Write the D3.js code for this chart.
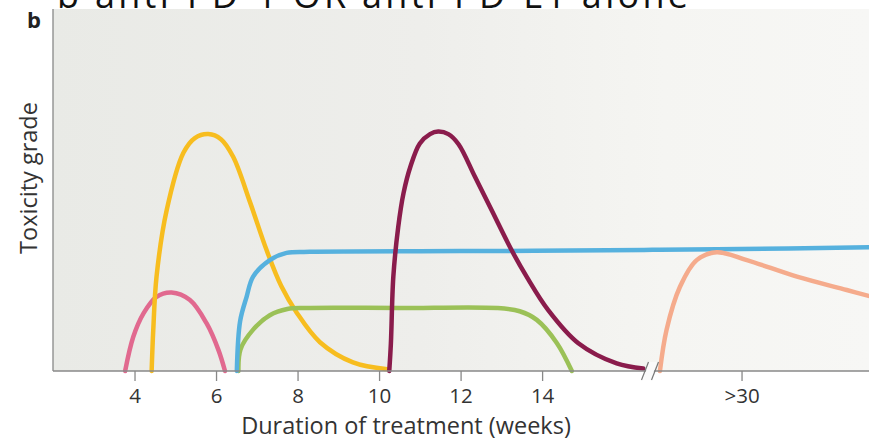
<!DOCTYPE html>
<html>
<head>
<meta charset="utf-8">
<script src="https://cdn.jsdelivr.net/npm/d3@7"></script>
<style>
  html, body { margin: 0; padding: 0; background: #fff; }
  svg { display: block; }
  text { font-family: 'Open Sans', Lato, sans-serif; fill: #333; }
</style>
</head>
<body>
<div id="chart"></div>
<script>
// weeks of treatment vs toxicity grade (arbitrary units)
const pink = [[3.77, 0], [3.97, 0.95], [4.22, 1.6], [4.54, 2.06], [4.91, 2.18], [5.36, 1.97], [5.77, 1.32], [6.06, 0.58], [6.22, 0]]
const yellow = [[4.42, 0], [4.46, 1.14], [4.54, 2.62], [4.79, 4.47], [5.2, 6.06], [5.48, 6.47], [5.81, 6.58], [6.12, 6.44], [6.42, 5.95], [6.84, 4.67], [7.24, 3.36], [7.6, 2.36], [7.98, 1.62], [8.55, 0.8], [9.36, 0.24], [10.2, 0.05]]
const blue = [[6.51, 0], [6.59, 1.38], [6.75, 2.06], [6.91, 2.62], [7.32, 3.08], [7.73, 3.28], [8.3, 3.31], [12, 3.33], [16.5, 3.36], [28, 3.37], [29.4, 3.38], [33.2, 3.44]]
const green = [[6.55, 0], [6.6, 0.6], [6.91, 1.15], [7.32, 1.55], [7.75, 1.72], [8.2, 1.75], [10.5, 1.75], [12.9, 1.75], [13.45, 1.66], [13.87, 1.42], [14.36, 0.78], [14.73, 0]]
const maroon = [[10.25, 0], [10.29, 0.77], [10.35, 2.62], [10.47, 4.0], [10.6, 4.94], [10.77, 5.68], [11.0, 6.32], [11.25, 6.58], [11.45, 6.65], [11.7, 6.58], [11.95, 6.3], [12.35, 5.4], [12.76, 4.47], [13.25, 3.36], [13.62, 2.62], [14.15, 1.69], [14.89, 0.77], [15.83, 0.21], [16.48, 0.07]]
const salmon = [[27.96, 0], [28.16, 1.14], [28.49, 2.34], [28.9, 3.08], [29.39, 3.3], [30.13, 3.08], [31.36, 2.62], [32.58, 2.25], [33.2, 2.06]]

const tickWeeks = [4, 6, 8, 10, 12, 14, 30]
const tickLabels = ['4', '6', '8', '10', '12', '14', '>30']

const width = 869
const height = 440
const plotLeft = 53
const plotTop = 9
const plotBottom = 371

const series = [
  { pts: pink, color: '#e1698f' },
  { pts: yellow, color: '#f7bd1f' },
  { pts: green, color: '#9bc157' },
  { pts: blue, color: '#56b1de' },
  { pts: maroon, color: '#8a1c4c' },
  { pts: salmon, color: '#f5ab8c' }
]

// broken axis: weeks 16.5 to 28 are squeezed into the gap
const x = d3.scaleLinear()
  .domain([2, 16.5, 28, 33.2])
  .range([plotLeft, 644, 660, 872])

const y = d3.scaleLinear()
  .domain([0, 10])
  .range([plotBottom, plotBottom - 360])

let svg = d3.select('#chart').append('svg')
  .attr('width', width)
  .attr('height', height)

const grad = svg.append('defs').append('linearGradient')
  .attr('id', 'bg')
  .attr('x1', '0%').attr('x2', '100%')
  .attr('y1', '0%').attr('y2', '0%')
grad.append('stop').attr('offset', '0%').attr('stop-color', '#e9eae6')
grad.append('stop').attr('offset', '45%').attr('stop-color', '#eeeeeb')
grad.append('stop').attr('offset', '75%').attr('stop-color', '#f5f5f2')
grad.append('stop').attr('offset', '100%').attr('stop-color', '#f7f7f5')

svg.append('rect')
  .attr('x', plotLeft)
  .attr('y', plotTop)
  .attr('width', width - plotLeft)
  .attr('height', plotBottom - plotTop)
  .attr('fill', 'url(#bg)')

// cut-off panel title at the very top
svg.append('text')
  .attr('x', 57)
  .attr('y', 8)
  .attr('textLength', 631)
  .style('font-size', '36px')
  .style('fill', '#111')
  .text('b   anti-PD-1 OR anti-PD-L1 alone')

svg.append('text')
  .attr('x', 27)
  .attr('y', 28)
  .style('font-size', '22px')
  .style('font-weight', 'bold')
  .style('fill', '#222')
  .text('b')

const line = d3.line()
  .x(d => x(d[0]))
  .y(d => y(d[1]))
  .curve(d3.curveCatmullRom.alpha(0.5))

svg.selectAll('path.curve')
  .data(series)
  .enter()
  .append('path')
  .attr('class', 'curve')
  .attr('d', d => line(d.pts))
  .attr('fill', 'none')
  .attr('stroke', d => d.color)
  .attr('stroke-width', 4.5)
  .attr('stroke-linecap', 'round')

// axes
svg.append('line')
  .attr('x1', plotLeft).attr('x2', plotLeft)
  .attr('y1', plotTop).attr('y2', plotBottom)
  .attr('stroke', '#888').attr('stroke-width', 1.3)

svg.append('line')
  .attr('x1', plotLeft).attr('x2', width)
  .attr('y1', plotBottom).attr('y2', plotBottom)
  .attr('stroke', '#888').attr('stroke-width', 1.3)

const xAxis = svg.append('g')
  .attr('transform', `translate(0,${plotBottom})`)
  .call(d3.axisBottom(x)
    .tickValues(tickWeeks)
    .tickFormat((d, i) => tickLabels[i])
    .tickSize(10)
    .tickPadding(7))

xAxis.select('.domain').remove()
xAxis.selectAll('.tick line').attr('stroke', '#888').attr('stroke-width', 1.3)
xAxis.selectAll('.tick text')
  .style('font-family', "'Open Sans', Lato, sans-serif")
  .style('font-size', '20.5px')
  .style('fill', '#333')

// break marks
const xb = (x(16.5) + x(28)) / 2 - 2
svg.append('polygon')
  .attr('points', [[xb - 7, plotBottom + 9], [xb - 1, plotBottom - 9], [xb + 7, plotBottom - 9], [xb + 1, plotBottom + 9]].join(' '))
  .attr('fill', '#fafafa')
svg.selectAll('line.brk')
  .data([-5, 5])
  .enter()
  .append('line')
  .attr('class', 'brk')
  .attr('x1', d => xb + d - 3.5).attr('y1', plotBottom + 9)
  .attr('x2', d => xb + d + 3.5).attr('y2', plotBottom - 9)
  .attr('stroke', '#777').attr('stroke-width', 1.2)

svg.append('text')
  .attr('x', 406)
  .attr('y', 434)
  .attr('text-anchor', 'middle')
  .style('font-size', '23.5px')
  .text('Duration of treatment (weeks)')

svg.append('text')
  .attr('transform', 'translate(37,178) rotate(-90)')
  .attr('text-anchor', 'middle')
  .style('font-size', '23.5px')
  .text('Toxicity grade')
</script>
</body>
</html>
